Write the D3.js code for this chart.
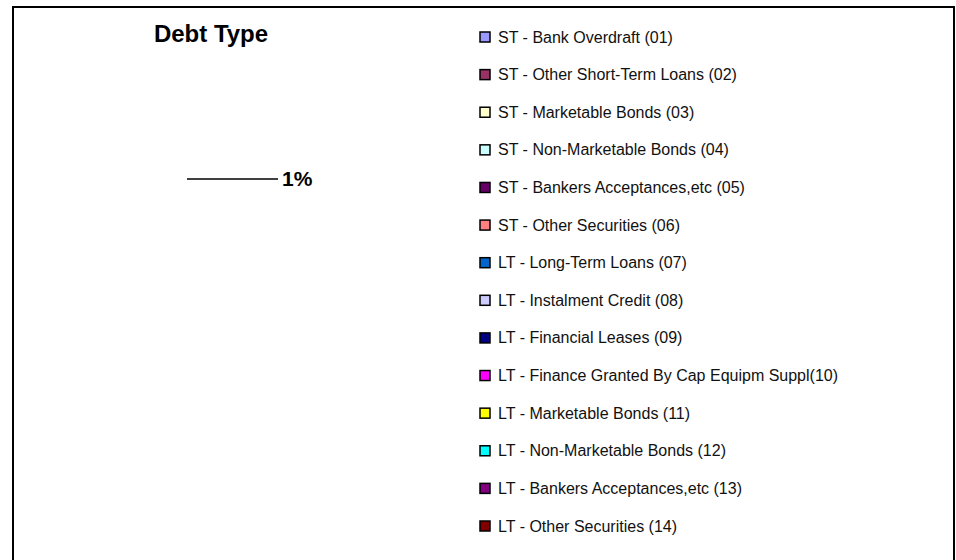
<!DOCTYPE html>
<html>
<head>
<meta charset="utf-8">
<script src="https://cdn.jsdelivr.net/npm/d3@7"></script>
<style>
  body { margin: 0; background: #fff; }
  svg { display: block; font-family: "Liberation Sans", Arial, sans-serif; }
</style>
</head>
<body>
<div id="chart"></div>
<script>
const categories = [
  "ST - Bank Overdraft (01)",
  "ST - Other Short-Term Loans (02)",
  "ST - Marketable Bonds (03)",
  "ST - Non-Marketable Bonds (04)",
  "ST - Bankers Acceptances,etc (05)",
  "ST - Other Securities (06)",
  "LT - Long-Term Loans (07)",
  "LT - Instalment Credit (08)",
  "LT - Financial Leases (09)",
  "LT - Finance Granted By Cap Equipm Suppl(10)",
  "LT - Marketable Bonds (11)",
  "LT - Non-Marketable Bonds (12)",
  "LT - Bankers Acceptances,etc (13)",
  "LT - Other Securities (14)"
];
const colors = ["#9999FF", "#993366", "#FFFFCC", "#CCFFFF", "#660066", "#FF8080", "#0066CC",
  "#CCCCFF", "#000080", "#FF00FF", "#FFFF00", "#00FFFF", "#800080", "#800000"];
// only one data label is visible on the picture
const labels = ["1%"];

const width = 956, height = 560;

const svg = d3.select("#chart")
  .append("svg")
  .attr("width", width)
  .attr("height", height);

// outer frame (runs off the bottom)
svg.append("rect")
  .attr("x", 13)
  .attr("y", 7)
  .attr("width", 941)
  .attr("height", 600)
  .attr("fill", "none")
  .attr("stroke", "#000")
  .attr("stroke-width", 2);

// title
svg.append("text")
  .attr("x", 211)
  .attr("y", 42)
  .attr("text-anchor", "middle")
  .attr("font-size", 24)
  .attr("font-weight", "bold")
  .text("Debt Type");

// data label with leader line
const lbl = svg.append("g").attr("transform", "translate(187, 179)");
lbl.append("line")
  .attr("x1", 0).attr("x2", 91)
  .attr("y1", 0).attr("y2", 0)
  .attr("stroke", "#000")
  .attr("stroke-width", 1.5);
lbl.append("text")
  .attr("x", 95)
  .attr("y", 7)
  .attr("font-size", 21)
  .attr("font-weight", "bold")
  .text(labels[0]);

// legend
const yScale = d3.scalePoint()
  .domain(categories)
  .range([37, 526]);

const legend = svg.selectAll(".legend")
  .data(categories)
  .enter()
  .append("g")
  .attr("class", "legend")
  .attr("transform", d => `translate(480, ${yScale(d)})`);

legend.append("rect")
  .attr("x", 0)
  .attr("y", -5)
  .attr("width", 10)
  .attr("height", 10)
  .attr("fill", (d, i) => colors[i])
  .attr("stroke", "#000")
  .attr("stroke-width", 1.5);

legend.append("text")
  .attr("x", 18)
  .attr("y", 5.5)
  .attr("font-size", 16)
  .attr("fill", "#111")
  .text(d => d);
</script>
</body>
</html>
